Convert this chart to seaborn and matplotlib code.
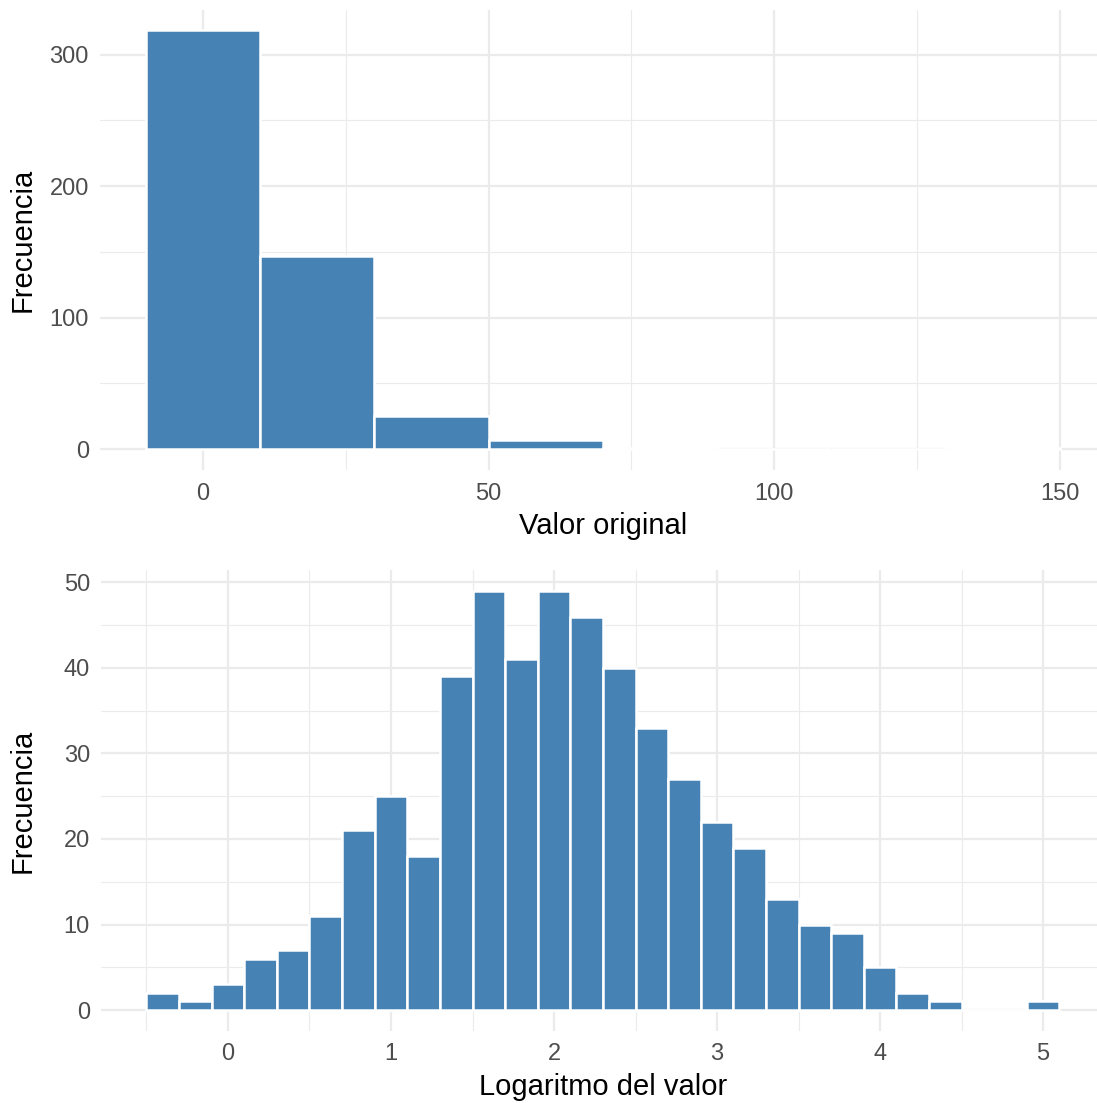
import numpy as np
import pandas as pd
import matplotlib
matplotlib.use("Agg")
import matplotlib.pyplot as plt
import seaborn as sns
from matplotlib.ticker import MultipleLocator

# Histogram of the raw values (bins of width 20)
raw_edges = [-10, 10, 30, 50, 70, 90, 110, 130, 150]
raw_counts = [319, 147, 25, 7, 1, 0, 0, 1]

# Histogram of the log-transformed values (bins of width 0.2)
log_centers = [-0.4, -0.2, 0.0, 0.2, 0.4, 0.6, 0.8, 1.0, 1.2, 1.4, 1.6, 1.8, 2.0,
               2.2, 2.4, 2.6, 2.8, 3.0, 3.2, 3.4, 3.6, 3.8, 4.0, 4.2, 4.4, 4.6,
               4.8, 5.0]
log_counts = [2, 1, 3, 6, 7, 11, 21, 25, 18, 39, 49, 41, 49, 46, 40, 33, 27, 22,
              19, 13, 10, 9, 5, 2, 1, 0, 0, 1]

BAR = "#4682B4"
GRID = "#EBEBEB"

sns.set_theme(style="white")
plt.rcParams["font.family"] = ["Liberation Sans", "DejaVu Sans"]

fig = plt.figure(figsize=(10.97, 11.03), dpi=100)
ax1 = fig.add_axes([100 / 1097, 1 - 470 / 1103, 997 / 1097, 460 / 1103])
ax2 = fig.add_axes([101 / 1097, 1 - 1031 / 1103, 996 / 1097, 461 / 1103])

raw_centers = [(a + b) / 2 for a, b in zip(raw_edges[:-1], raw_edges[1:])]
df_raw = pd.DataFrame({"valor": raw_centers, "n": raw_counts})
sns.histplot(data=df_raw, x="valor", weights="n", bins=raw_edges, ax=ax1,
             color=BAR, alpha=1, edgecolor="white", linewidth=1.8)

log_edges = [round(c - 0.1, 2) for c in log_centers] + [round(log_centers[-1] + 0.1, 2)]
df_log = pd.DataFrame({"valor": log_centers, "n": log_counts})
sns.histplot(data=df_log, x="valor", weights="n", bins=log_edges, ax=ax2,
             color=BAR, alpha=1, edgecolor="white", linewidth=1.8)


def style(ax, xlabel, xmaj, xmin, ymaj, ymin, xlim, ylim, left, width):
    ax.set_xlim(*xlim)
    ax.set_ylim(*ylim)
    ax.xaxis.set_major_locator(MultipleLocator(xmaj))
    ax.xaxis.set_minor_locator(MultipleLocator(xmin))
    ax.yaxis.set_major_locator(MultipleLocator(ymaj))
    ax.yaxis.set_minor_locator(MultipleLocator(ymin))
    ax.grid(True, which="major", color=GRID, linewidth=1.6)
    ax.grid(True, which="minor", color=GRID, linewidth=0.8)
    ax.set_axisbelow(True)
    for s in ax.spines.values():
        s.set_visible(False)
    ax.tick_params(axis="both", which="both", length=0, labelsize=17,
                   labelcolor="#4D4D4D")
    ax.tick_params(axis="x", pad=9)
    ax.tick_params(axis="y", pad=8)
    ax.set_xlabel(xlabel, fontsize=21, color="black", labelpad=5.5)
    ax.set_ylabel("Frecuencia", fontsize=21, color="black")
    # both y titles share one column at the left edge
    ax.yaxis.set_label_coords((37 - left) / width, 0.5)
    ax.xaxis.label.set_x((603 - left) / width)


style(ax1, "Valor original", 50, 25, 100, 50, (-18.03, 156.5), (-15.9, 333.9),
      100, 997)
style(ax2, "Logaritmo del valor", 1, 0.5, 10, 5, (-0.779, 5.331), (-2.45, 51.45),
      101, 996)

fig.savefig("out.png", dpi=100, facecolor="white")
